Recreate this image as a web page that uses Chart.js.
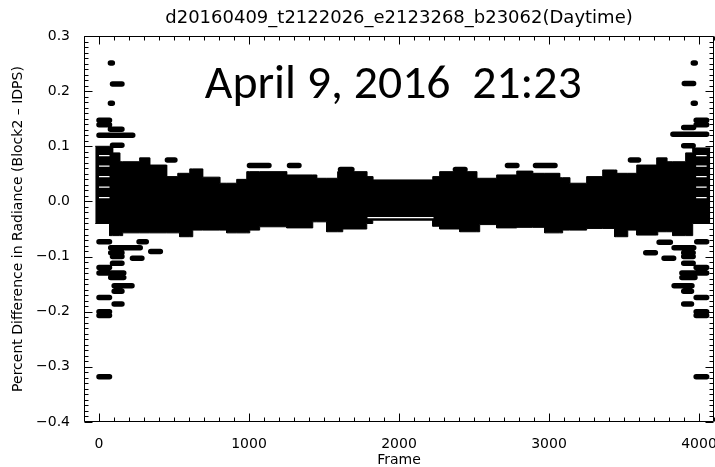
<!DOCTYPE html>
<html>
<head>
<meta charset="utf-8">
<script src="https://cdn.jsdelivr.net/npm/chart.js@4/dist/chart.umd.min.js"></script>
<style>
  html, body { margin: 0; padding: 0; background: #fff; }
  #wrap { width: 715px; height: 467px; }
</style>
</head>
<body>
<div id="wrap"><canvas id="c" width="715" height="467"></canvas></div>
<script>
// ---- text ----
const titleText = 'd20160409_t2122026_e2123268_b23062(Daytime)';
const xTitleText = 'Frame';
const yTitleText = 'Percent Difference in Radiance (Block2 \u2013 IDPS)';
const noteText = 'April 9, 2016  21:23';

// ---- axes ----
const xRange = [-100, 4100];
const yRange = [-0.4, 0.3];
const xTicks = [0, 1000, 2000, 3000, 4000];
const yTicks = [-0.4, -0.3, -0.2, -0.1, 0.0, 0.1, 0.2, 0.3];
const xMinorStep = 100;
const yMinorStep = 0.01;

// ---- dense core of the scatter: upper and lower envelope (step edges) ----
const coreTopFrames = [-25, 91, 138, 271, 338, 451, 525, 605, 691, 805, 918, 985, 1251, 1451, 1591,
  1785, 1825, 2225, 2271, 2518, 2651, 2785, 2891, 3071, 3138, 3251, 3358, 3451, 3585, 3718, 3785,
  3911, 3958, 4075];
const coreTopValues = [0.100, 0.088, 0.072, 0.079, 0.066, 0.045, 0.051, 0.059, 0.044, 0.033, 0.040,
  0.054, 0.048, 0.042, 0.054, 0.045, 0.039, 0.045, 0.054, 0.042, 0.048, 0.055, 0.051, 0.043, 0.033,
  0.045, 0.057, 0.051, 0.066, 0.079, 0.072, 0.088, 0.097];
const coreBottomFrames = [-25, 71, 158, 538, 625, 851, 1005, 1071, 1251, 1425, 1518, 1625, 1785, 1825,
  2225, 2271, 2405, 2538, 2651, 2785, 2971, 3091, 3251, 3438, 3525, 3585, 3725, 3825, 3958, 4075];
const coreBottomValues = [-0.040, -0.062, -0.057, -0.064, -0.052, -0.057, -0.052, -0.046, -0.048,
  -0.037, -0.055, -0.050, -0.040, -0.034, -0.045, -0.050, -0.055, -0.042, -0.048, -0.047, -0.057,
  -0.052, -0.049, -0.064, -0.052, -0.061, -0.055, -0.062, -0.040];

// ---- isolated runs of equal values (frame from, frame to, percent difference) ----
const runFrom = [
  76, 90, 76, 0, 0, 76, 0, 90,
  456, 1003, 1270, 1610, 2376, 2723, 2910, 3543,
  3962, 3902, 3962, 3981, 3981, 3898, 3826, 3898,
  0, 267, 78, 78, 345, 223, 90, 90, 0, 0, 78, 101, 101, 0, 101, 0, 0, 0,
  3734, 3834, 3898, 3985, 3645, 3767, 3898, 3898, 3981, 3886, 3886, 3834, 3898, 3981, 3898, 3981, 3981, 3981
];
const runTo = [
  89, 153, 89, 70, 70, 153, 225, 153,
  506, 1133, 1333, 1686, 2440, 2786, 3040, 3597,
  3975, 3964, 3975, 4051, 4051, 3964, 4051, 3961,
  70, 315, 275, 153, 409, 286, 153, 153, 70, 165, 165, 220, 153, 70, 153, 70, 70, 70,
  3809, 3965, 3961, 4051, 3709, 3831, 3961, 3961, 4051, 4051, 3973, 3953, 3950, 4051, 3950, 4051, 4051, 4051
];
const runValue = [
  0.251, 0.213, 0.178, 0.147, 0.139, 0.131, 0.120, 0.102,
  0.075, 0.065, 0.065, 0.058, 0.058, 0.065, 0.065, 0.075,
  0.251, 0.214, 0.178, 0.147, 0.139, 0.134, 0.122, 0.101,
  -0.073, -0.073, -0.084, -0.093, -0.091, -0.103, -0.100, -0.112, -0.120, -0.130, -0.138, -0.153, -0.163, -0.174, -0.186, -0.200, -0.207, -0.318,
  -0.074, -0.084, -0.093, -0.073, -0.093, -0.103, -0.100, -0.112, -0.120, -0.130, -0.138, -0.153, -0.163, -0.174, -0.186, -0.200, -0.207, -0.318
];

// ---- narrow empty levels running through the core ----
const gapFrom = [0, 0, 0, 0, 0, 3981, 3981, 3981, 3981, 3981, 1790];
const gapTo = [70, 70, 70, 70, 70, 4051, 4051, 4051, 4051, 4051, 2230];
const gapValue = [0.083, 0.064, 0.045, 0.026, 0.007, 0.083, 0.064, 0.045, 0.026, 0.007, -0.0295];

// ---- build line tables ----
function stepValue(frames, values, a, b) {
  for (let i = 0; i < values.length; i++) {
    if (frames[i] <= a && b <= frames[i + 1]) return values[i];
  }
  return 0;
}
const coreEdges = Array.from(new Set(coreTopFrames.concat(coreBottomFrames))).sort((a, b) => a - b);
const corePtsTop = [], corePtsBottom = [];
for (let i = 0; i < coreEdges.length - 1; i++) {
  const a = coreEdges[i], b = coreEdges[i + 1];
  const t = stepValue(coreTopFrames, coreTopValues, a, b);
  const u = stepValue(coreBottomFrames, coreBottomValues, a, b);
  corePtsTop.push({x: a, y: t}, {x: b, y: t});
  corePtsBottom.push({x: a, y: u}, {x: b, y: u});
}
function segments(from, to, value) {
  const pts = [];
  value.forEach((v, i) => { pts.push({x: from[i], y: v}, {x: to[i], y: v}, {x: to[i], y: null}); });
  return pts;
}
const runPts = segments(runFrom, runTo, runValue);
const gapPts = segments(gapFrom, gapTo, gapValue);

const textFont = 'DejaVu Sans';

// frame with inward major/minor ticks on all four sides
const frameTicks = {
  id: 'frameTicks',
  afterDatasetsDraw(chart) {
    const {ctx, chartArea: a, scales: {x, y}} = chart;
    ctx.save();
    ctx.strokeStyle = '#000';
    ctx.lineWidth = 1;
    ctx.beginPath();
    const L = Math.round(a.left) + 0.5, R = Math.round(a.right) - 0.5;
    const T = Math.round(a.top) + 0.5, B = Math.round(a.bottom) - 0.5;
    ctx.rect(L, T, R - L, B - T);
    const xMajor = new Set(xTicks);
    for (let v = xRange[0]; v <= xRange[1] + 1e-6; v += xMinorStep) {
      const p = Math.round(x.getPixelForValue(v)) + 0.5;
      const len = xMajor.has(Math.round(v)) ? 8 : 4;
      ctx.moveTo(p, B); ctx.lineTo(p, B - len);
      ctx.moveTo(p, T); ctx.lineTo(p, T + len);
    }
    const nMinor = Math.round((yRange[1] - yRange[0]) / yMinorStep);
    for (let k = 0; k <= nMinor; k++) {
      const v = yRange[0] + k * yMinorStep;
      const p = Math.round(y.getPixelForValue(v)) + 0.5;
      const len = (k % 10 === 0) ? 8 : 4;
      ctx.moveTo(L, p); ctx.lineTo(L + len, p);
      ctx.moveTo(R, p); ctx.lineTo(R - len, p);
    }
    ctx.stroke();
    ctx.restore();
  }
};

// date/time caption placed in data space
const noteFrame = 705, noteValue = 0.187, noteSize = 48, noteWidth = 377;
const caption = {
  id: 'caption',
  afterDatasetsDraw(chart) {
    const {ctx, scales: {x, y}} = chart;
    ctx.save();
    ctx.font = noteSize + 'px Carlito, Lato, sans-serif';
    const w = ctx.measureText(noteText).width;
    ctx.translate(x.getPixelForValue(noteFrame), y.getPixelForValue(noteValue));
    ctx.scale(noteWidth / w, 1);
    ctx.fillStyle = '#000';
    ctx.textBaseline = 'alphabetic';
    ctx.fillText(noteText, 0, 0);
    ctx.restore();
  }
};

function fmtY(v) {
  const r = Math.round(v * 10) / 10;
  const s = Math.abs(r).toFixed(1);
  return r < 0 ? '\u2212' + s : s;
}

// datasets with a higher `order` are painted first (underneath)
new Chart(document.getElementById('c'), {
  type: 'line',
  data: {
    datasets: [
      {
        data: corePtsTop, fill: '+1', backgroundColor: '#000', borderColor: '#000',
        borderWidth: 1, pointRadius: 0, tension: 0, order: 4
      },
      {
        data: corePtsBottom, fill: false, backgroundColor: '#000', borderColor: '#000',
        borderWidth: 1, pointRadius: 0, tension: 0, order: 3
      },
      {
        data: gapPts, fill: false, borderColor: '#fff', borderWidth: 1.3,
        borderCapStyle: 'butt', pointRadius: 0, spanGaps: false, tension: 0, order: 2
      },
      {
        data: runPts, fill: false, borderColor: '#000', borderWidth: 5.5,
        borderCapStyle: 'round', pointRadius: 0, spanGaps: false, tension: 0, order: 1
      }
    ]
  },
  options: {
    responsive: false,
    animation: false,
    events: [],
    layout: { padding: { left: 0, right: 1, top: 0, bottom: 0 } },
    plugins: {
      legend: { display: false },
      tooltip: { enabled: false },
      title: {
        display: true, text: titleText, color: '#000', fullSize: false,
        font: { family: textFont, size: 18, weight: 'normal' },
        padding: { top: 8, bottom: 6.4 }
      }
    },
    scales: {
      x: {
        type: 'linear', position: 'bottom', min: xRange[0], max: xRange[1],
        afterBuildTicks: s => { s.ticks = xTicks.map(v => ({ value: v })); },
        afterFit: s => { s.height = 45; s.paddingLeft = 0; s.paddingRight = 0; },
        grid: { display: false },
        border: { display: false },
        ticks: {
          color: '#000', font: { family: textFont, size: 14 }, padding: 6,
          maxRotation: 0, autoSkip: false, callback: v => String(v)
        },
        title: {
          display: true, text: xTitleText, color: '#000',
          font: { family: textFont, size: 14 }, padding: { top: 0, bottom: -2 }
        }
      },
      y: {
        type: 'linear', position: 'left', min: yRange[0], max: yRange[1],
        afterBuildTicks: s => { s.ticks = yTicks.map(v => ({ value: v })); },
        afterFit: s => { s.width = 84; s.paddingTop = 0; s.paddingBottom = 0; },
        grid: { display: false },
        border: { display: false },
        ticks: {
          color: '#000', font: { family: textFont, size: 14 }, padding: 6,
          autoSkip: false, callback: v => fmtY(v)
        },
        title: {
          display: true, text: yTitleText, color: '#000',
          font: { family: textFont, size: 14 }, padding: { top: 10, bottom: 0 }
        }
      }
    }
  },
  plugins: [frameTicks, caption]
});
</script>
</body>
</html>
